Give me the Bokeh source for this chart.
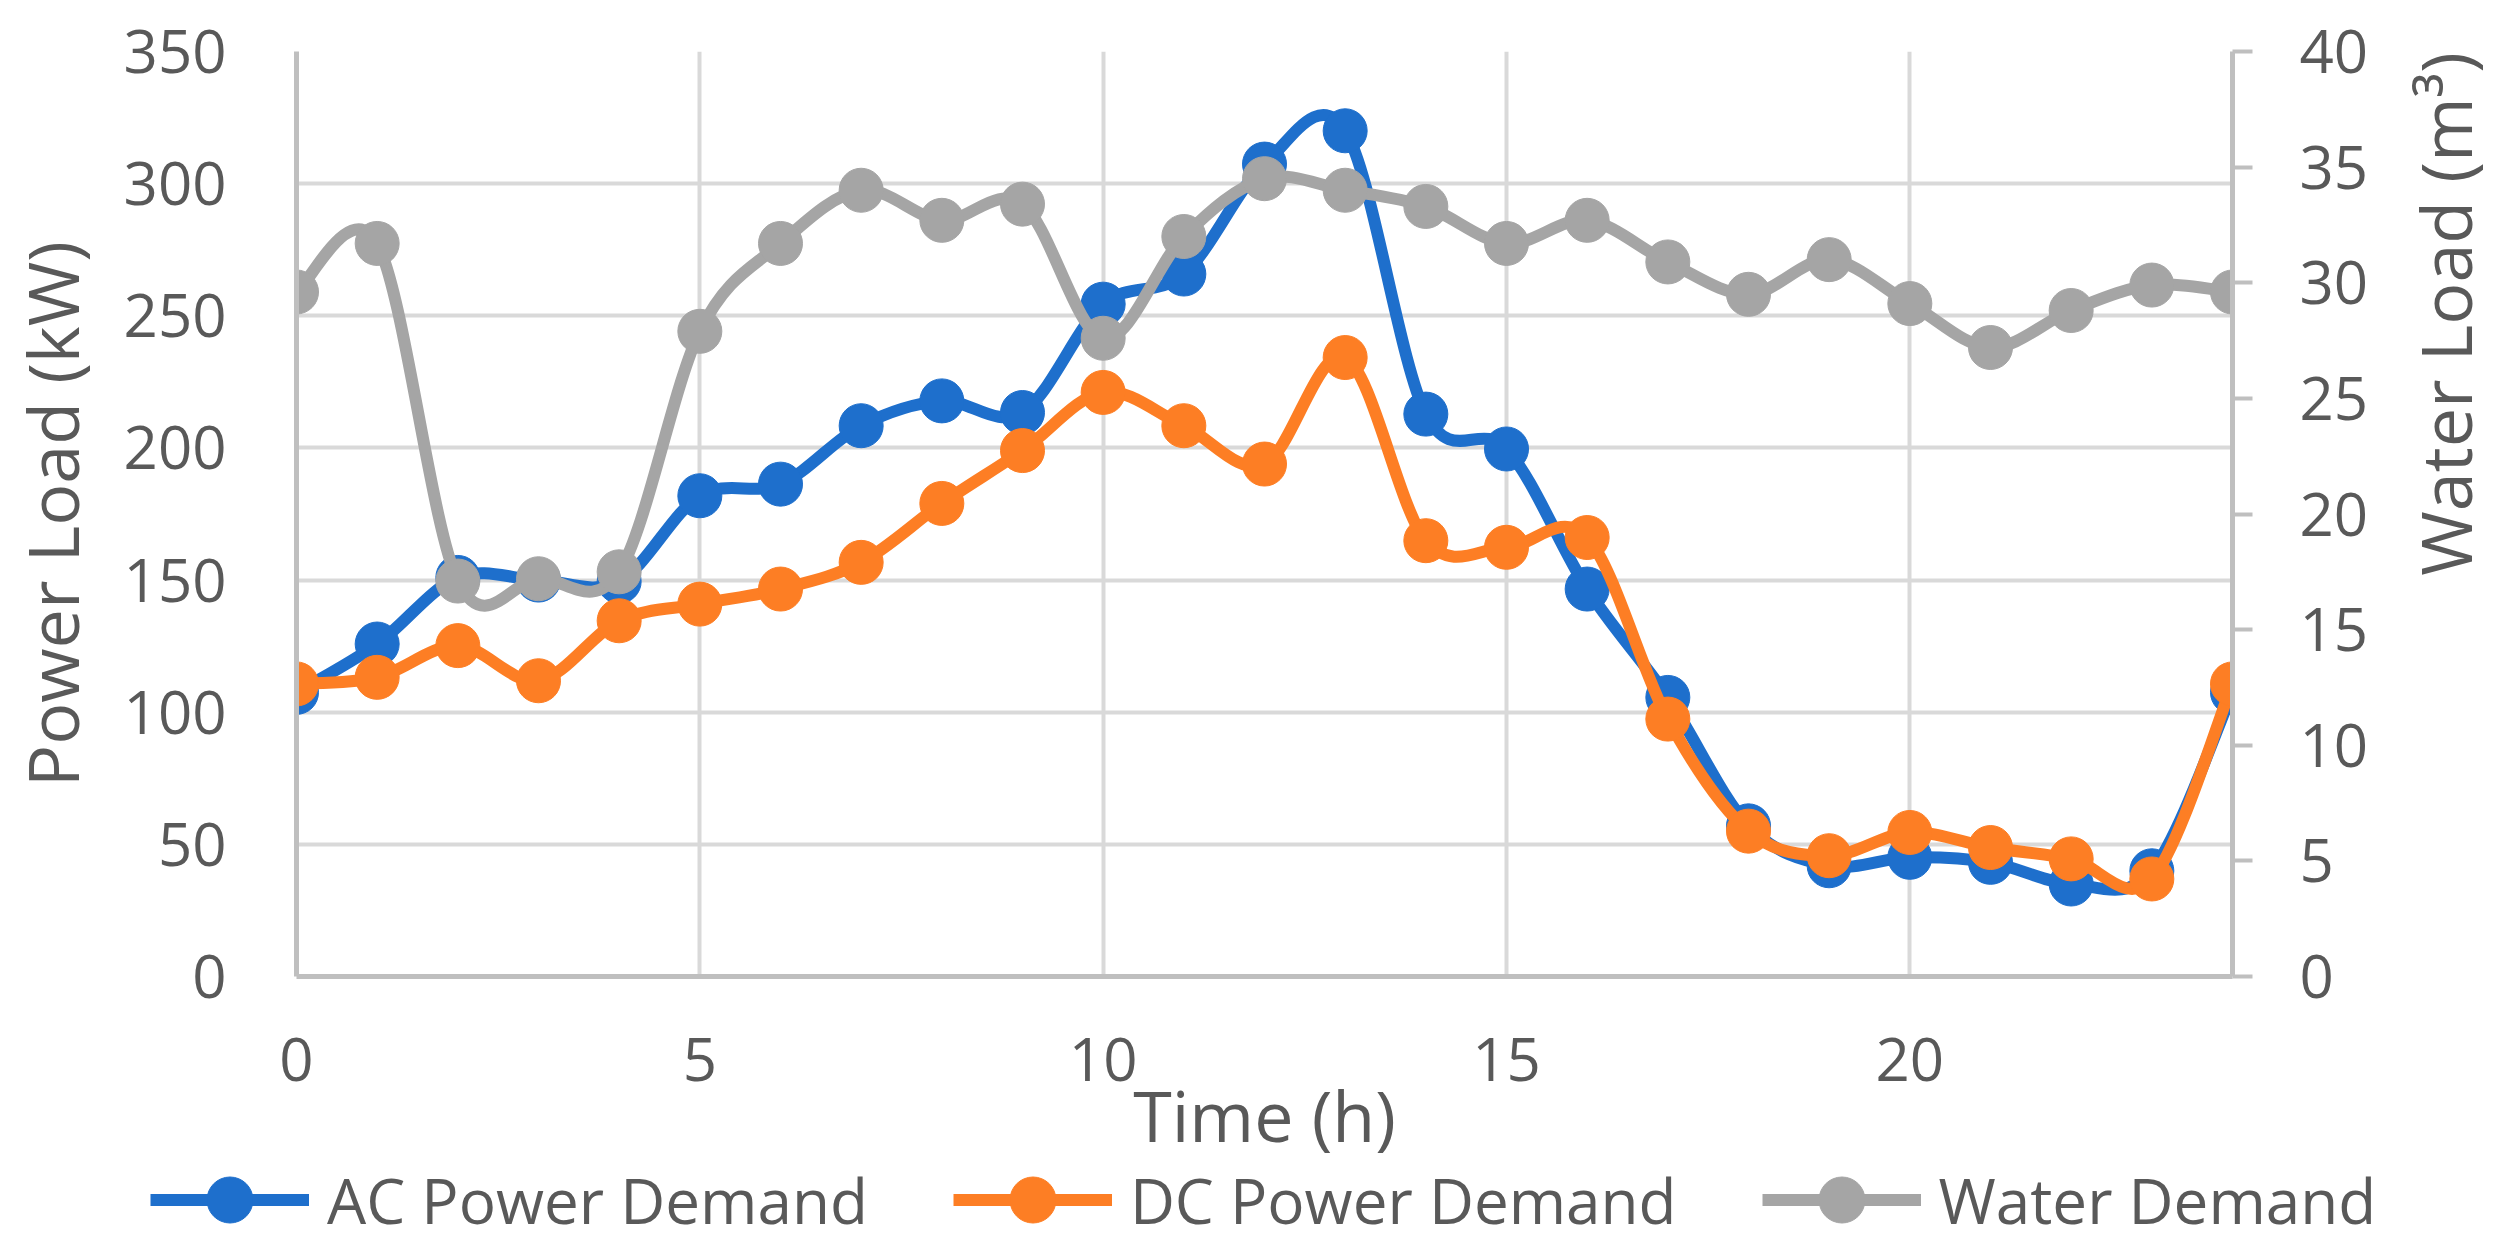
import math
from bokeh.plotting import figure
from bokeh.layouts import column, row
from bokeh.models import (LinearAxis, Range1d, Legend, LegendItem, FixedTicker,
                          ColumnDataSource, Label)
from bokeh.embed import file_html
from bokeh.resources import INLINE

# ---------------- data ----------------
hours = list(range(25))
ac_power = [107.5, 125.8, 151.0, 150.0, 149.5, 181.9, 186.3, 208.4, 217.8, 213.4,
            254.4, 265.8, 307.4, 320.0, 212.8, 199.6, 146.6, 105.6, 57.0, 41.9,
            45.1, 43.2, 35.0, 40.0, 107.5]
dc_power = [110.7, 113.2, 125.2, 111.9, 134.6, 140.9, 146.6, 156.7, 179.0, 199.0,
            221.0, 208.4, 193.9, 234.2, 164.9, 162.4, 166.1, 97.4, 55.0, 45.7,
            54.5, 48.8, 44.5, 36.9, 110.7]
water = [29.6, 31.7, 17.1, 17.2, 17.5, 27.9, 31.7, 34.0, 32.7, 33.4,
         27.6, 32.0, 34.5, 34.0, 33.3, 31.7, 32.7, 30.9, 29.5, 31.0,
         29.1, 27.2, 28.8, 29.9, 29.6]
series_names = ["AC Power Demand", "DC Power Demand", "Water Demand"]
x_title = "Time (h)"
left_title = "Power Load (kW)"
right_title = "Water Load (m³)"
x_ticks = [0, 5, 10, 15, 20]
power_ticks = [0, 50, 100, 150, 200, 250, 300, 350]
water_ticks = [0, 5, 10, 15, 20, 25, 30, 35, 40]

# ---------------- style ----------------
BLUE = "#1E6FCC"
ORANGE = "#FD7E24"
GRAY = "#A5A5A5"
TEXT = "#595959"
GRID = "#D9D9D9"
AXIS = "#BFBFBF"
FONT = "Open Sans"

TOTAL_W, TOTAL_H = 2500, 1230
FRAME_L, FRAME_R, FRAME_T, FRAME_B = 296, 2232, 51, 976
W_MAIN = 2380
W_RT = TOTAL_W - W_MAIN
H_MAIN = 1176
H_LEG = TOTAL_H - H_MAIN

p = figure(width=W_MAIN, height=H_MAIN, output_backend="svg", toolbar_location=None,
           x_range=Range1d(0, 24), y_range=Range1d(0, 350),
           min_border_left=FRAME_L, min_border_right=W_MAIN - FRAME_R,
           min_border_top=FRAME_T, min_border_bottom=H_MAIN - FRAME_B)
p.extra_y_ranges = {"water": Range1d(0, 40)}
p.outline_line_color = None
p.background_fill_color = "white"
p.border_fill_color = "white"


def smooth_source(xs, ys, k=1.0 / 6.0):
    """Cubic Bezier control points (Catmull-Rom style) between data points."""
    n = len(xs)
    d = {key: [] for key in ("x0", "y0", "x1", "y1", "cx0", "cy0", "cx1", "cy1")}
    for i in range(n - 1):
        a = max(i - 1, 0)
        b = min(i + 2, n - 1)
        d["x0"].append(xs[i]); d["y0"].append(ys[i])
        d["x1"].append(xs[i + 1]); d["y1"].append(ys[i + 1])
        d["cx0"].append(xs[i] + (xs[i + 1] - xs[a]) * k)
        d["cy0"].append(ys[i] + (ys[i + 1] - ys[a]) * k)
        d["cx1"].append(xs[i + 1] - (xs[b] - xs[i]) * k)
        d["cy1"].append(ys[i + 1] - (ys[b] - ys[i]) * k)
    return ColumnDataSource(d)


series = ((series_names[0], ac_power, BLUE, "default"),
          (series_names[1], dc_power, ORANGE, "default"),
          (series_names[2], water, GRAY, "water"))

for name, vals, color, rng in series:
    src = smooth_source(hours, vals)
    p.bezier(x0="x0", y0="y0", x1="x1", y1="y1", cx0="cx0", cy0="cy0",
             cx1="cx1", cy1="cy1", source=src, line_color=color,
             line_width=12, line_cap="round", y_range_name=rng)
    p.scatter(hours, vals, size=44, marker="circle", fill_color=color,
              line_color=color, y_range_name=rng)

# ---------------- axes ----------------
xa = p.xaxis[0]
xa.ticker = FixedTicker(ticks=x_ticks)
xa.axis_label = x_title
xa.major_label_standoff = 61
xa.axis_label_standoff = -17

ya = p.yaxis[0]
ya.ticker = FixedTicker(ticks=power_ticks)
ya.axis_label = left_title
ya.major_label_standoff = 70
ya.axis_label_standoff = 21

ra = LinearAxis(y_range_name="water", ticker=FixedTicker(ticks=water_ticks))
ra.major_label_standoff = 47
p.add_layout(ra, "right")

for ax in (xa, ya, ra):
    ax.axis_line_color = AXIS
    ax.axis_line_width = 5
    ax.major_tick_in = 0
    ax.major_tick_out = 0
    ax.minor_tick_in = 0
    ax.minor_tick_out = 0
    ax.major_label_text_font = FONT
    ax.major_label_text_font_size = "60px"
    ax.major_label_text_color = TEXT
    ax.axis_label_text_font = FONT
    ax.axis_label_text_font_size = "70px"
    ax.axis_label_text_font_style = "normal"
    ax.axis_label_text_color = TEXT
ra.major_tick_out = 20
ra.major_tick_line_color = AXIS
ra.major_tick_line_width = 4

p.xgrid.ticker = FixedTicker(ticks=x_ticks)
p.ygrid.ticker = FixedTicker(ticks=power_ticks)
p.grid.grid_line_color = GRID
p.grid.grid_line_width = 4

# ---------------- right axis title (reads bottom-to-top) ----------------
rt = figure(width=W_RT, height=H_MAIN, output_backend="svg", toolbar_location=None,
            x_axis_type=None, y_axis_type=None, x_range=Range1d(0, 1),
            y_range=Range1d(0, 1), min_border=0)
rt.min_border_left = rt.min_border_right = rt.min_border_top = rt.min_border_bottom = 0
rt.outline_line_color = None
rt.grid.visible = False
rt.add_layout(Label(x=2444 - W_MAIN, y=H_MAIN - 513.5, x_units="screen",
                    y_units="screen", text=right_title, angle=math.pi / 2,
                    text_align="center", text_baseline="middle", text_font=FONT,
                    text_font_size="70px", text_color=TEXT))

# ---------------- legend (own strip under the chart) ----------------
lg = figure(width=TOTAL_W, height=H_LEG, output_backend="svg", toolbar_location=None,
            x_axis_type=None, y_axis_type=None, x_range=Range1d(0, 24),
            y_range=Range1d(0, 350), min_border=0)
lg.min_border_left = lg.min_border_right = lg.min_border_top = lg.min_border_bottom = 0
lg.outline_line_color = None
lg.grid.visible = False
items = []
for name, vals, color, rng in series:
    lr = lg.line(hours, vals, line_color=color, line_width=12, visible=False)
    sr = lg.scatter(hours, vals, size=44, marker="circle", fill_color=color,
                    line_color=color, visible=False)
    items.append(LegendItem(label=name, renderers=[lr, sr]))
legend = Legend(items=items, orientation="horizontal", location=(150, -27),
                glyph_width=159, glyph_height=115, label_standoff=18, spacing=85,
                padding=0, margin=0, border_line_color=None,
                background_fill_alpha=0,
                label_text_font=FONT, label_text_font_size="62px",
                label_text_color=TEXT)
lg.add_layout(legend, "center")

layout = column(row(p, rt, spacing=0), lg, spacing=0)
open("out.html", "w").write(file_html(layout, INLINE))
